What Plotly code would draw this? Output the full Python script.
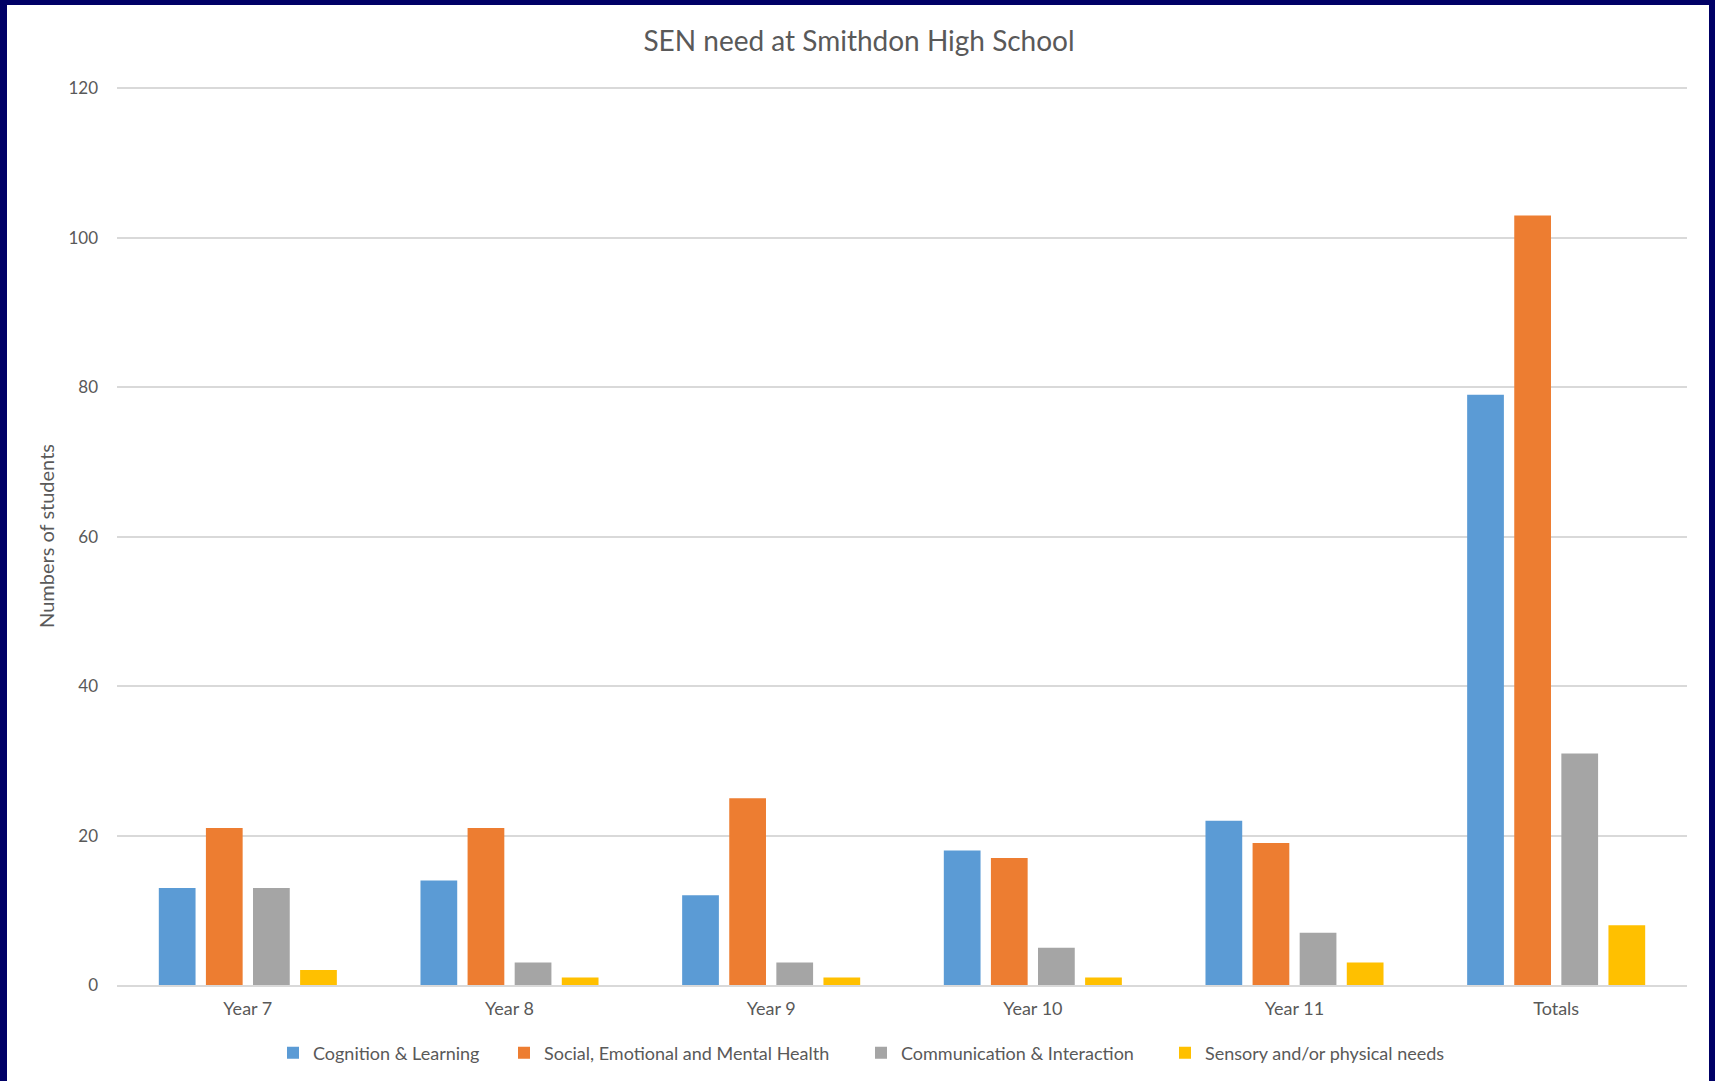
import plotly.graph_objects as go

categories = ["Year 7", "Year 8", "Year 9", "Year 10", "Year 11", "Totals"]
series_names = [
    "Cognition & Learning",
    "Social, Emotional and Mental Health",
    "Communication & Interaction",
    "Sensory and/or physical needs",
]
cognition = [13, 14, 12, 18, 22, 79]
semh = [21, 21, 25, 17, 19, 103]
communication = [13, 3, 3, 5, 7, 31]
sensory = [2, 1, 1, 1, 3, 8]
y_ticks = [0, 20, 40, 60, 80, 100, 120]

colors = ["#5B9BD5", "#ED7D31", "#A5A5A5", "#FFC000"]
values = [cognition, semh, communication, sensory]

W, H = 1715, 1081
ML, MR, MT, MB = 117, 28, 87, 96
PW, PH = W - ML - MR, H - MT - MB

def px_x(p):
    return (p - ML) / PW

def px_y(p):
    return (H - MB - p) / PH

FONT = "Lato"
GREY = "#595959"
legend_ids = ["legend", "legend2", "legend3", "legend4"]
legend_px = [287, 518, 875, 1179]  # left edge of legend squares (pixels)

fig = go.Figure()
for name, vals, col, lid in zip(series_names, values, colors, legend_ids):
    fig.add_trace(go.Bar(x=categories, y=vals, name=name, marker_color=col,
                         marker_line_width=0, legend=lid))

legend_layout = {}
for lid, lx in zip(legend_ids, legend_px):
    legend_layout[lid] = dict(
        orientation="h", xref="container", yref="container",
        x=(lx - 14) / W, xanchor="left", y=(H - 1053) / H, yanchor="middle",
        font=dict(family=FONT, size=18, color=GREY), bgcolor="rgba(0,0,0,0)",
        borderwidth=0, itemsizing="constant",
    )

fig.update_layout(
    width=W, height=H,
    margin=dict(l=ML, r=MR, t=MT, b=MB),
    paper_bgcolor="#000066",
    plot_bgcolor="rgba(0,0,0,0)",
    barmode="group",
    bargap=0.28,
    bargroupgap=0.22,
    font=dict(family=FONT, color=GREY),
    title=dict(text="SEN need at Smithdon High School", xref="container", x=859 / W,
               xanchor="center", y=1 - 41 / H, yanchor="middle",
               font=dict(family=FONT, size=28, color=GREY)),
    showlegend=True,
    shapes=[dict(type="rect", xref="paper", yref="paper",
                 x0=px_x(7), x1=px_x(1709), y0=px_y(1100), y1=px_y(5),
                 fillcolor="white", line_width=0, layer="below")],
    **legend_layout,
)
fig.update_xaxes(showgrid=False, showline=True, linecolor="#D9D9D9", linewidth=2,
                 ticks="", ticklabelstandoff=6,
                 tickfont=dict(family=FONT, size=18, color=GREY))
fig.update_yaxes(range=[0, 120.2], tickvals=y_ticks, showgrid=True, gridcolor="#D9D9D9",
                 gridwidth=1.5, zeroline=False, showline=False, ticks="",
                 tickfont=dict(family=FONT, size=17, color=GREY), ticklabelstandoff=18,
                 title=dict(text="Numbers of students", standoff=8,
                            font=dict(family=FONT, size=20, color=GREY)))

fig.write_html("out.html", config={"displayModeBar": False},
               post_script="document.body.style.margin='0';")
